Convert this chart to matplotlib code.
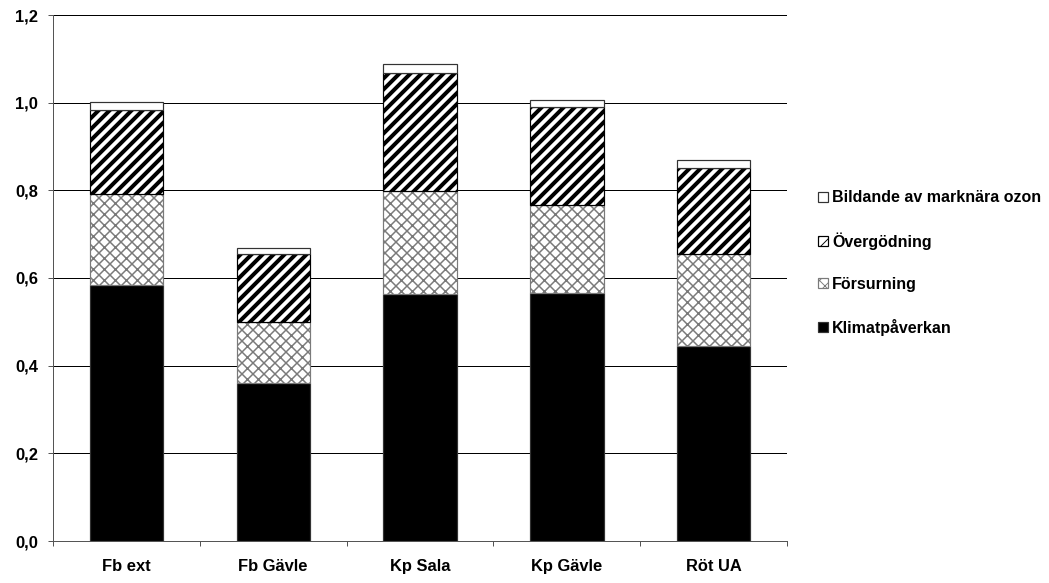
import matplotlib
matplotlib.use("Agg")
import matplotlib.pyplot as plt
import numpy as np

# Data
categories = ["Fb ext", "Fb Gävle", "Kp Sala", "Kp Gävle", "Röt UA"]
klimat = [0.585, 0.361, 0.563, 0.565, 0.444]
forsurning = [0.207, 0.138, 0.236, 0.202, 0.210]
overgodning = [0.191, 0.156, 0.269, 0.222, 0.196]
ozon = [0.018, 0.014, 0.020, 0.017, 0.020]
series_labels = ["Klimatpåverkan", "Försurning", "Övergödning",
                 "Bildande av marknära ozon"]
yticks = [0.0, 0.2, 0.4, 0.6, 0.8, 1.0, 1.2]
ytick_labels = ["0,0", "0,2", "0,4", "0,6", "0,8", "1,0", "1,2"]

DPI = 66
W, H = 1049, 583


def pt(px):
    return px * 72.0 / DPI


plt.rcParams["font.family"] = ["Liberation Sans", "DejaVu Sans"]
plt.rcParams["font.weight"] = "bold"

fig = plt.figure(figsize=(W / DPI, H / DPI), dpi=DPI)
ax = fig.add_axes([53 / W, 1 - 541 / H, (787 - 53) / W, (541 - 15) / H])

x = np.arange(len(categories))
width = 0.5
fs = pt(16.5)
fs_leg = pt(16)

styles = [
    dict(color="black", edgecolor="#333333", hatch=None, hlw=1),
    dict(color="white", edgecolor="#7a7a7a", hatch="xx", hlw=pt(1.5)),
    dict(color="white", edgecolor="black", hatch="//", hlw=pt(4.0)),
    dict(color="white", edgecolor="#333333", hatch=None, hlw=1),
]

bottom = np.zeros(len(categories))
containers = []
for vals, lab, st in zip([klimat, forsurning, overgodning, ozon],
                         series_labels, styles):
    bc = ax.bar(x, vals, width, bottom=bottom, color=st["color"],
                edgecolor=st["edgecolor"], linewidth=pt(1.2),
                hatch=st["hatch"], label=lab, zorder=3)
    for p in bc.patches:
        if hasattr(p, "set_hatch_linewidth"):
            p.set_hatch_linewidth(st["hlw"])
    containers.append(bc)
    bottom = bottom + np.array(vals)

ax.set_xlim(-0.5, len(categories) - 0.5)
ax.set_ylim(0, 1.2)
ax.set_yticks(yticks)
ax.set_yticklabels(ytick_labels, fontsize=fs, fontweight="bold")
ax.yaxis.grid(True, color="black", linewidth=pt(1), zorder=0)
ax.set_axisbelow(True)

ax.set_xticks(x)
ax.set_xticklabels(categories, fontsize=fs, fontweight="bold")
ax.set_xticks(np.arange(-0.5, len(categories)), minor=True)
ax.tick_params(axis="x", which="major", length=0, pad=pt(18))
ax.tick_params(axis="x", which="minor", length=pt(5), width=pt(1),
               direction="out", color="#555555")
ax.tick_params(axis="y", length=pt(5), width=pt(1), direction="out",
               pad=pt(10), color="#555555")

for s in ["top", "right"]:
    ax.spines[s].set_visible(False)
for s in ["left", "bottom"]:
    ax.spines[s].set_color("#555555")
    ax.spines[s].set_linewidth(pt(1))

handles = [c.patches[0] for c in containers][::-1]
labels = series_labels[::-1]
leg = fig.legend(handles, labels, loc="center left",
                 bbox_to_anchor=(818 / W, 1 - 263 / H), frameon=False,
                 prop=dict(size=fs_leg, weight="bold"),
                 handlelength=0.62, handleheight=0.62, handletextpad=0.25,
                 labelspacing=1.68, borderpad=0, borderaxespad=0)

fig.savefig("out.png", dpi=DPI)
